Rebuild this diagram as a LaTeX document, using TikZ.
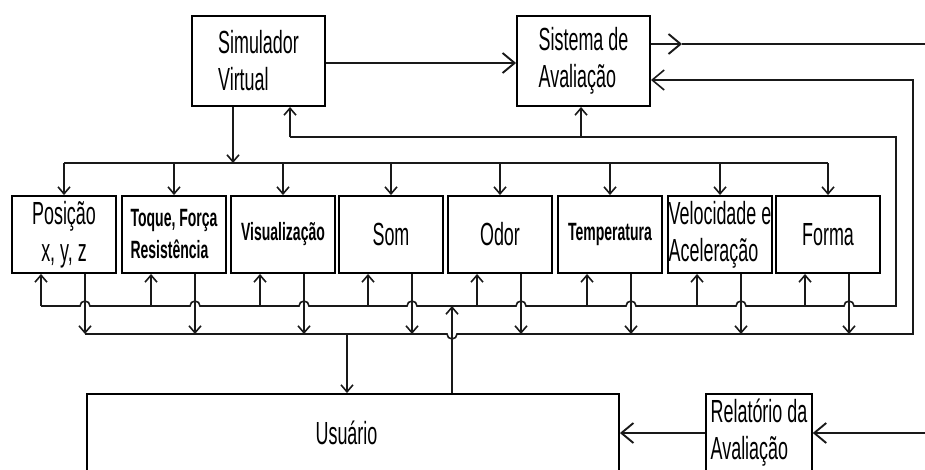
\documentclass[tikz,border=0pt]{standalone}
\usepackage{fontspec}
\setmainfont{Liberation Sans}
\newfontfamily\cond[FakeStretch=0.56]{Liberation Sans}
\usetikzlibrary{arrows.meta}
\begin{document}
\begin{tikzpicture}[x=1pt,y=-1pt,
  line width=1.6pt, draw=black!90,
  box/.style={draw=black, line width=1.9pt, inner sep=0pt, font=\cond\fontsize{32}{37}\selectfont},
  topbox/.style={box, minimum width=133pt, minimum height=90pt, align=left},
  sens/.style={box, minimum width=104pt, minimum height=77pt},
  small/.style={font=\cond\bfseries\fontsize{25}{32}\selectfont},
  arr/.style={-{Straight Barb[length=7pt,width=12pt]}},
  big/.style={-{Straight Barb[length=12pt,width=20pt]}, line width=1.9pt},
]
\useasboundingbox (0,0) rectangle (925,469);
\clip (0,0) rectangle (925,469);

% top boxes
\node[topbox] (sim) at (258.5,61) {Simulador\\Virtual};
\node[topbox] (sis) at (583.5,61) {Sistema de\\Avaliação};

% sensor boxes
\node[sens, align=center] (b1) at (64,234.5) {Posição\\x, y, z};
\node[sens, small, align=left] (b2) at (174,234.5) {Toque, Força\\Resistência};
\node[sens, small] (b3) at (283,234.5) {Visualização};
\node[sens] (b4) at (391,234.5) {Som};
\node[sens] (b5) at (500,234.5) {Odor};
\node[sens, small] (b6) at (610,234.5) {Temperatura};
\node[sens, align=left] (b7) at (720,234.5) {Velocidade e\\Aceleração};
\node[sens] (b8) at (828,234.5) {Forma};

% bottom boxes
\node[box, minimum width=532pt, minimum height=78pt] (usu) at (353,433) {\kern-13pt Usuário};
\node[box, line width=1.5pt, minimum width=106pt, minimum height=78pt, align=left] (rel) at (759,433) {Relatório da\\Avaliação};

% simulator -> evaluation
\draw[big] ([yshift=-2pt]sim.east) -- ([yshift=-2pt]sis.west);
\coordinate (outm) at (682,44);
\coordinate (out) at (925,44);
\draw[big] ([yshift=17pt]sis.east) -- (outm);
\draw[line width=1.9pt] (outm) -- (out);
\coordinate (sisin) at ([yshift=-19pt]sis.east);

% per-box taps
\foreach \i/\cx in {1/64,2/174,3/283,4/391,5/500,6/610,7/720,8/828} {
  \coordinate (t\i) at (\cx,163);
  \coordinate (u\i) at (\cx-23,306);
  \coordinate (d\i) at (\cx+21,334);
  \coordinate (h\i) at (\cx+26,306);
  \draw[arr] (t\i) -- (b\i.north);
  \draw[arr] (u\i) -- (u\i |- b\i.south);
  \draw[arr] (d\i |- b\i.south) -- (d\i);
}

% top distribution bus
\draw (t1) -- (t8);
\coordinate (sd) at (233,163);
\draw[arr] (sd |- sim.south) -- (sd);

% feedback line and upper bus with hops
\coordinate (fs) at (290,137);
\coordinate (fa) at (581,137);
\coordinate (fr) at (896,137);
\coordinate (ur) at (896,306);
\draw[arr] (fs) -- (fs |- sim.south);
\draw[arr] (fa) -- (fa |- sis.south);
\draw (fs) -- (fr) -- (ur)
  foreach \i in {8,7,6,5,4,3,2,1} { -- (h\i) arc[start angle=0, end angle=180, radius=5pt] }
  -- (u1);

% lower bus with hop, to evaluation system
\coordinate (hl) at (447,334);
\coordinate (lr) at (913,334);
\draw[big, line width=1.6pt] (d1) -- (hl) arc[start angle=180, end angle=360, radius=5pt] -- (lr) -- (lr |- sisin) -- (sisin);

% user links
\coordinate (ld) at (347,334);
\coordinate (lu) at (452,306);
\draw[arr] (ld) -- (ld |- usu.north);
\draw[arr] (lu |- usu.north) -- (lu);

% report
\coordinate (rin) at (925,433);
\draw[big] (rel.west) -- (usu.east);
\draw[big] (rin) -- (rel.east);
\end{tikzpicture}
\end{document}
